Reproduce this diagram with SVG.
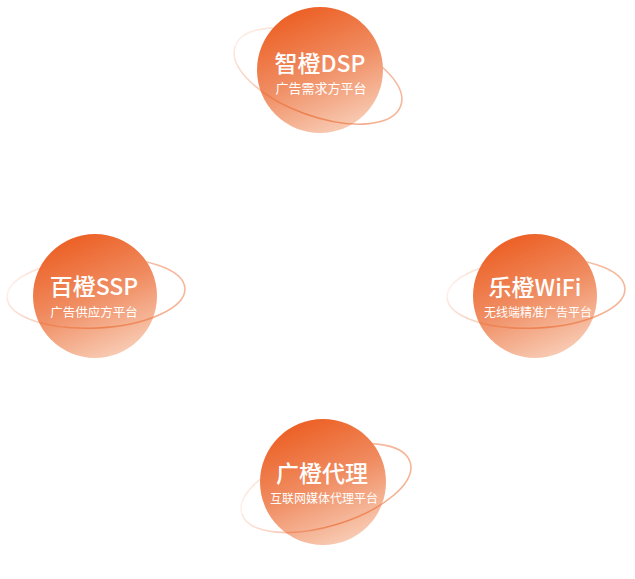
<svg xmlns="http://www.w3.org/2000/svg" width="635" height="579" viewBox="0 0 635 579">
<defs>
<linearGradient id="ball" x1="0.25" y1="0.05" x2="0.65" y2="1">
<stop offset="0" stop-color="#EC6025"/>
<stop offset="0.5" stop-color="#F08D62"/>
<stop offset="1" stop-color="#F8CCB5"/>
</linearGradient>
<linearGradient id="ring" gradientUnits="userSpaceOnUse" x1="-90" y1="0" x2="90" y2="0">
<stop offset="0" stop-color="#EE7A45" stop-opacity="0.1"/>
<stop offset="0.5" stop-color="#EE7A45" stop-opacity="0.45"/>
<stop offset="1" stop-color="#EE7A45" stop-opacity="0.55"/>
</linearGradient>
<linearGradient id="ringf" gradientUnits="userSpaceOnUse" x1="-90" y1="0" x2="90" y2="0">
<stop offset="0" stop-color="#E9682F" stop-opacity="0.15"/>
<stop offset="0.5" stop-color="#E9682F" stop-opacity="0.65"/>
<stop offset="1" stop-color="#EE7A45" stop-opacity="0.55"/>
</linearGradient>
<clipPath id="front" clipPathUnits="userSpaceOnUse"><rect x="-100" y="0" width="200" height="60"/></clipPath>
<clipPath id="back" clipPathUnits="userSpaceOnUse"><rect x="-100" y="-60" width="200" height="60"/></clipPath>
</defs>
<style>
.ball{fill:url(#ball);}
.ring{fill:none;stroke:url(#ring);stroke-width:1.6;}
.ringf{fill:none;stroke:url(#ringf);stroke-width:1.6;}
.title{font-family:"Noto Sans CJK SC","Noto Sans",sans-serif;font-weight:500;font-size:23px;fill:#FFFFFF;text-anchor:middle;}
.sub{font-family:"Noto Sans CJK SC","Noto Sans",sans-serif;font-size:12.5px;fill:#FFFFFF;text-anchor:middle;}
</style>
<g id="connectors"/>
<g id="node-dsp">
<g transform="translate(318,76) rotate(20)"><ellipse class="ring" rx="88" ry="40" clip-path="url(#back)"/></g>
<circle class="ball" cx="320" cy="70" r="63"/>
<g transform="translate(318,76) rotate(20)"><ellipse class="ringf" rx="88" ry="40" clip-path="url(#front)"/></g>
<text class="title" x="320" y="72">智橙DSP</text>
<text class="sub" x="321" y="93" style="font-size:13px">广告需求方平台</text>
</g>
<g id="node-ssp">
<g transform="translate(96,293) rotate(-3)"><ellipse class="ring" rx="89" ry="35" clip-path="url(#back)"/></g>
<circle class="ball" cx="95" cy="296" r="62"/>
<g transform="translate(96,293) rotate(-3)"><ellipse class="ringf" rx="89" ry="35" clip-path="url(#front)"/></g>
<text class="title" x="94" y="295">百橙SSP</text>
<text class="sub" x="94" y="317">广告供应方平台</text>
</g>
<g id="node-wifi">
<g transform="translate(536,293) rotate(-3)"><ellipse class="ring" rx="89" ry="35" clip-path="url(#back)"/></g>
<circle class="ball" cx="535" cy="296" r="62"/>
<g transform="translate(536,293) rotate(-3)"><ellipse class="ringf" rx="89" ry="35" clip-path="url(#front)"/></g>
<text class="title" x="535" y="296">乐橙WiFi</text>
<text class="sub" x="538" y="317" style="font-size:12px">无线端精准广告平台</text>
</g>
<g id="node-agency">
<g transform="translate(326,488) rotate(-17)"><ellipse class="ring" rx="88" ry="38" clip-path="url(#back)"/></g>
<circle class="ball" cx="323" cy="482" r="63"/>
<g transform="translate(326,488) rotate(-17)"><ellipse class="ringf" rx="88" ry="38" clip-path="url(#front)"/></g>
<text class="title" x="322" y="482">广橙代理</text>
<text class="sub" x="324" y="503" style="font-size:12px">互联网媒体代理平台</text>
</g>
</svg>
